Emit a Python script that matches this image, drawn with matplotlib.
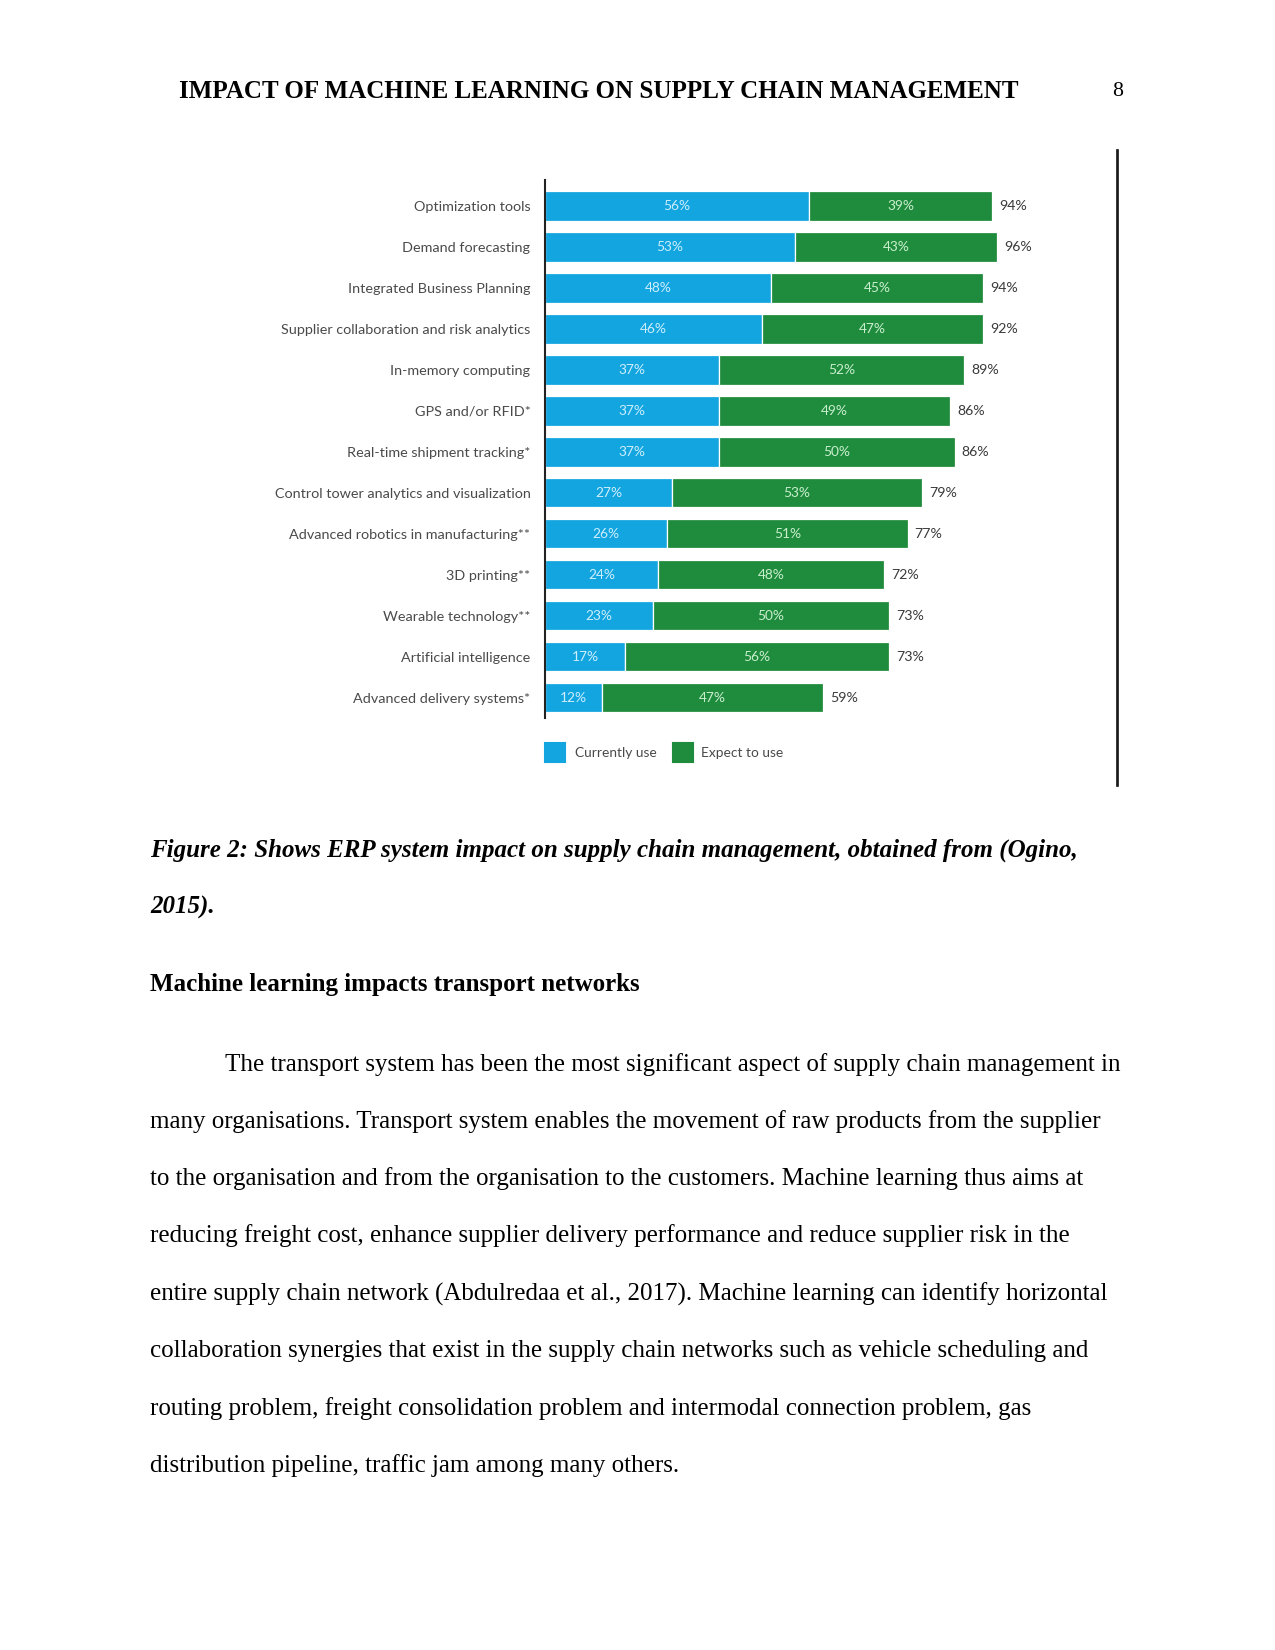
import matplotlib.pyplot as plt

W, H = 1275, 1650

categories = [
    "Optimization tools",
    "Demand forecasting",
    "Integrated Business Planning",
    "Supplier collaboration and risk analytics",
    "In-memory computing",
    "GPS and/or RFID*",
    "Real-time shipment tracking*",
    "Control tower analytics and visualization",
    "Advanced robotics in manufacturing**",
    "3D printing**",
    "Wearable technology**",
    "Artificial intelligence",
    "Advanced delivery systems*",
]
currently_use = [56, 53, 48, 46, 37, 37, 37, 27, 26, 24, 23, 17, 12]
expect_to_use = [39, 43, 45, 47, 52, 49, 50, 53, 51, 48, 50, 56, 47]
totals = [94, 96, 94, 92, 89, 86, 86, 79, 77, 72, 73, 73, 59]

header = "IMPACT OF MACHINE LEARNING ON SUPPLY CHAIN MANAGEMENT"
caption = ["Figure 2: Shows ERP system impact on supply chain management, obtained from (Ogino,",
           "2015)."]
heading = "Machine learning impacts transport networks"
paragraph = [
    "The transport system has been the most significant aspect of supply chain management in",
    "many organisations. Transport system enables the movement of raw products from the supplier",
    "to the organisation and from the organisation to the customers. Machine learning thus aims at",
    "reducing freight cost, enhance supplier delivery performance and reduce supplier risk in the",
    "entire supply chain network (Abdulredaa et al., 2017). Machine learning can identify horizontal",
    "collaboration synergies that exist in the supply chain networks such as vehicle scheduling and",
    "routing problem, freight consolidation problem and intermodal connection problem, gas",
    "distribution pipeline, traffic jam among many others.",
]

BLUE = "#12a5e0"
GREEN = "#1f8b3c"


def fx(x):
    return x / W


def fy(y):
    return 1 - y / H


fig = plt.figure(figsize=(8.5, 11), dpi=150)
serif = "Liberation Serif"

# page text
fig.text(fx(179), fy(91), header, family=serif, weight="bold", fontsize=12, va="center")
fig.text(fx(1123), fy(91), "8", family=serif, fontsize=10.5, va="center", ha="right")
fig.text(fx(150), fy(850), caption[0], family=serif, weight="bold", style="italic",
         fontsize=12, va="center")
fig.text(fx(150), fy(907), caption[1], family=serif, weight="bold", style="italic",
         fontsize=12, va="center")
fig.text(fx(150), fy(985), heading, family=serif, weight="bold", fontsize=12, va="center")
line_y = [1065, 1122, 1179, 1236, 1294, 1351, 1409, 1466]
for i, (txt, y) in enumerate(zip(paragraph, line_y)):
    x = 225 if i == 0 else 150
    fig.text(fx(x), fy(y), txt, family=serif, fontsize=12, va="center")

# right border line of the picture frame
fig.add_artist(plt.Line2D([fx(1117), fx(1117)], [fy(150), fy(785)], color="#1a1a1a", lw=1.3))

# chart
px_per_pct = 4.71
x0, top, bottom = 545, 180, 718
xmax = 112
ax = fig.add_axes([fx(x0), fy(bottom), xmax * px_per_pct / W, (bottom - top) / H])
n = len(categories)
pos = list(range(n))
ax.barh(pos, currently_use, height=0.71, color=BLUE, edgecolor="white", linewidth=0.6)
ax.barh(pos, expect_to_use, left=currently_use, height=0.71, color=GREEN,
        edgecolor="white", linewidth=0.6)
for i in pos:
    c, e, t = currently_use[i], expect_to_use[i], totals[i]
    ax.text(c / 2, i, f"{c}%", ha="center", va="center", color="#cdeefc",
            family="Lato", fontsize=6.6)
    ax.text(c + e / 2, i, f"{e}%", ha="center", va="center", color="#c9efcf",
            family="Lato", fontsize=6.6)
    ax.text(c + e + 1.5, i, f"{t}%", ha="left", va="center", color="#3a3a3a",
            family="Lato", fontsize=6.8)
ax.set_xlim(0, xmax)
ax.set_ylim(12.49, -0.634)
ax.set_xticks([])
ax.set_yticks(pos)
ax.set_yticklabels(categories, family="Lato", fontsize=6.9, color="#4a4a4a")
ax.tick_params(axis="y", length=0, pad=7)
for s in ["top", "right", "bottom"]:
    ax.spines[s].set_visible(False)
ax.spines["left"].set_color("#222222")
ax.spines["left"].set_linewidth(1.0)

# legend
lax = fig.add_axes([0, 0, 1, 1], facecolor="none")
lax.set_xlim(0, W)
lax.set_ylim(H, 0)
lax.axis("off")
lax.add_patch(plt.Rectangle((545, 743), 20, 19, color=BLUE))
lax.text(575, 753, "Currently use", va="center", family="Lato", fontsize=6.6, color="#4a4a4a")
lax.add_patch(plt.Rectangle((673, 743), 20, 19, color=GREEN))
lax.text(701, 753, "Expect to use", va="center", family="Lato", fontsize=6.6, color="#4a4a4a")

fig.savefig("out.png", dpi=150)
